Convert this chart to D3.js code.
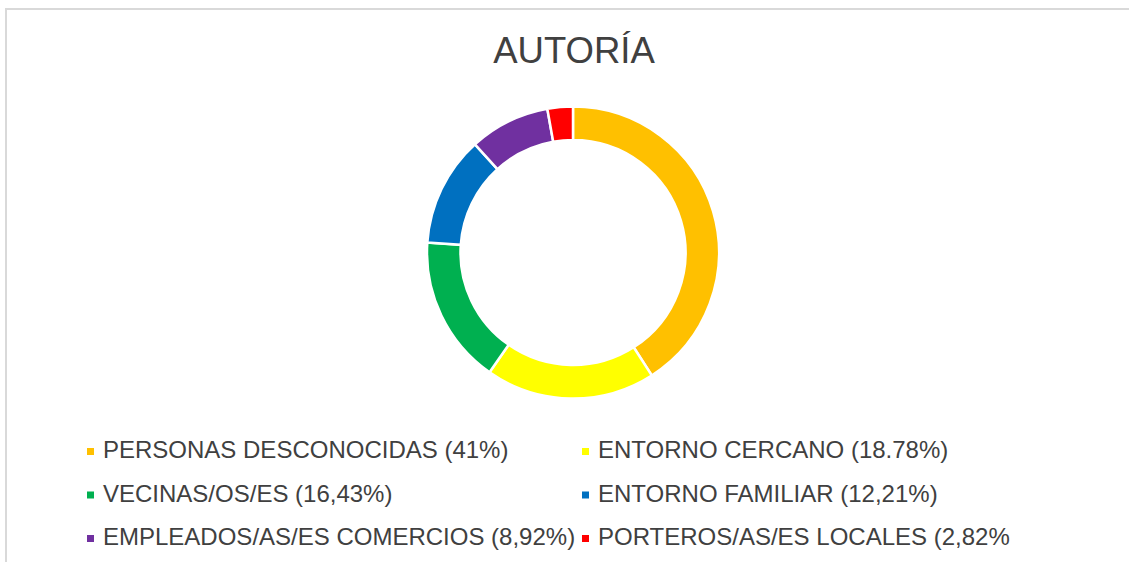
<!DOCTYPE html>
<html><head><meta charset="utf-8">
<script src="https://cdn.jsdelivr.net/npm/d3@7"></script>
<style>body{margin:0;background:#fff;}svg{display:block;font-family:"Liberation Sans",Arial,sans-serif;}</style>
</head><body>
<svg id="c" width="1129" height="562"></svg>
<script>
const categories = ["PERSONAS DESCONOCIDAS (41%)","ENTORNO CERCANO (18.78%)","VECINAS/OS/ES (16,43%)","ENTORNO FAMILIAR (12,21%)","EMPLEADOS/AS/ES COMERCIOS (8,92%)","PORTEROS/AS/ES LOCALES (2,82%"];
const values = [41, 18.78, 16.43, 12.21, 8.92, 2.82];
const colors = ["#FFC000","#FFFF00","#00B050","#0070C0","#7030A0","#FF0000"];
const title = "AUTORÍA";

const svg = d3.select("#c");
svg.append("rect").attr("x",6).attr("y",9).attr("width",1130).attr("height",570)
  .attr("fill","#fff").attr("stroke","#d9d9d9").attr("stroke-width",2);

svg.append("text").attr("x",574).attr("y",63).attr("text-anchor","middle")
  .attr("font-size",36.5).attr("fill","#404040").text(title);

const data = categories.map((c,i)=>({name:c,value:values[i],color:colors[i]}));
const pie = d3.pie().value(d=>d.value).sort(null);
const arc = d3.arc().innerRadius(112.5).outerRadius(146);
const g = svg.append("g").attr("transform","translate(573,252.5)");
g.selectAll("path").data(pie(data)).join("path")
  .attr("d",arc).attr("fill",d=>d.data.color)
  .attr("stroke","#fff").attr("stroke-width",2.5);

const colX = [87, 582];
const rowY = [458, 501.5, 545];
const leg = svg.append("g");
data.forEach((d,i)=>{
  const x = colX[i%2], y = rowY[Math.floor(i/2)];
  leg.append("rect").attr("x",x).attr("y",y-10).attr("width",7).attr("height",7).attr("fill",d.color);
  leg.append("text").attr("x",x+16).attr("y",y).attr("font-size",24).attr("fill","#404040").text(d.name);
});
</script>
</body></html>
